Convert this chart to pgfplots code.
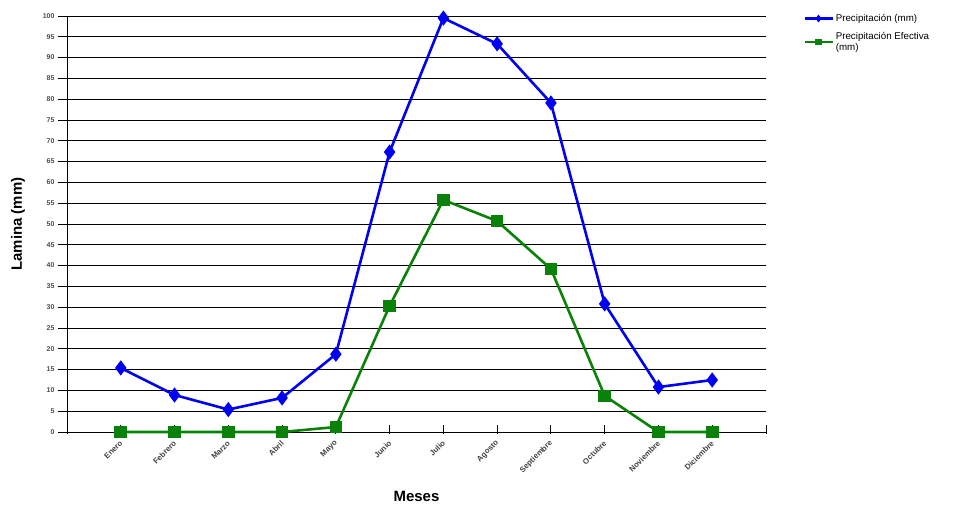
\documentclass[border=0pt]{standalone}
\usepackage{pgfplots}
\pgfplotsset{compat=1.18}
\usepackage{fontspec}
\setmainfont{Liberation Sans}
\definecolor{pblue}{RGB}{0,0,245}
\definecolor{pgreen}{RGB}{10,130,10}
\begin{document}
\begin{tikzpicture}[x=1bp,y=1bp]
\begin{axis}[
  at={(0,0)}, anchor=south west,
  scale only axis, width=699bp, height=416bp,
  xmin=-1, xmax=12, ymin=0, ymax=100,
  axis x line*=bottom, axis y line*=left,
  axis line style={black, line width=0.9bp},
  ytick={0,5,...,100},
  ymajorgrids, grid style={black, line width=0.9bp},
  xtick={-1,0,...,12},
  xticklabels={,Enero,Febrero,Marzo,Abril,Mayo,Junio,Julio,Agosto,Septiembre,Octubre,Noviembre,Diciembre,},
  tick align=outside,
  major tick length=9bp,
  tick style={black, line width=0.9bp},
  xtick style={yshift=7bp},
  /pgf/number format/assume math mode=true,
  yticklabel style={font=\fontsize{7}{8}\selectfont\bfseries, text=black!70, xshift=0bp},
  xticklabel style={font=\fontsize{7.8}{8}\selectfont\bfseries, text=black!75, rotate=45, anchor=east, yshift=-1bp, xshift=3bp},
  xlabel={\textbf{Meses}},
  xlabel style={at={(axis description cs:0.5,-0.156)}, anchor=center, font=\fontsize{15}{17}\selectfont},
  ylabel={\textbf{Lamina (mm)}},
  ylabel style={at={(axis description cs:-0.070,0.5)}, anchor=center, font=\fontsize{15}{17}\selectfont},
  clip=false,
  legend style={at={(rel axis cs:1,1)}, anchor=north west, xshift=36bp, yshift=5bp,
    draw=none, fill=none, font=\fontsize{9.8}{11.5}\selectfont,
    cells={anchor=west, align=left}, row sep=5bp, inner sep=1bp},
  legend image code/.code={\draw[mark repeat=2,mark phase=2,mark size=1.8bp] plot coordinates {(0bp,0bp)(14bp,0bp)(28bp,0bp)};},
]
\addplot[pblue, line width=2.6bp, mark=diamond*, mark size=5.5bp, mark options={solid}] coordinates {
 (0,15.4) (1,8.9) (2,5.4) (3,8.2) (4,18.7) (5,67.3) (6,99.5) (7,93.3) (8,79.1) (9,30.8) (10,10.8) (11,12.5)};
\addlegendentry{Precipitación (mm)}
\addplot[pgreen, line width=2.6bp, mark=square*, mark size=5bp, mark options={solid}] coordinates {
 (0,0) (1,0) (2,0) (3,0) (4,1.2) (5,30.3) (6,55.8) (7,50.7) (8,39.2) (9,8.7) (10,0) (11,0)};
\addlegendentry{Precipitación Efectiva\\(mm)}
\end{axis}
\pgfresetboundingbox
\path[use as bounding box] (-67bp,-74bp) rectangle (892bp,432bp);
\end{tikzpicture}
\end{document}
